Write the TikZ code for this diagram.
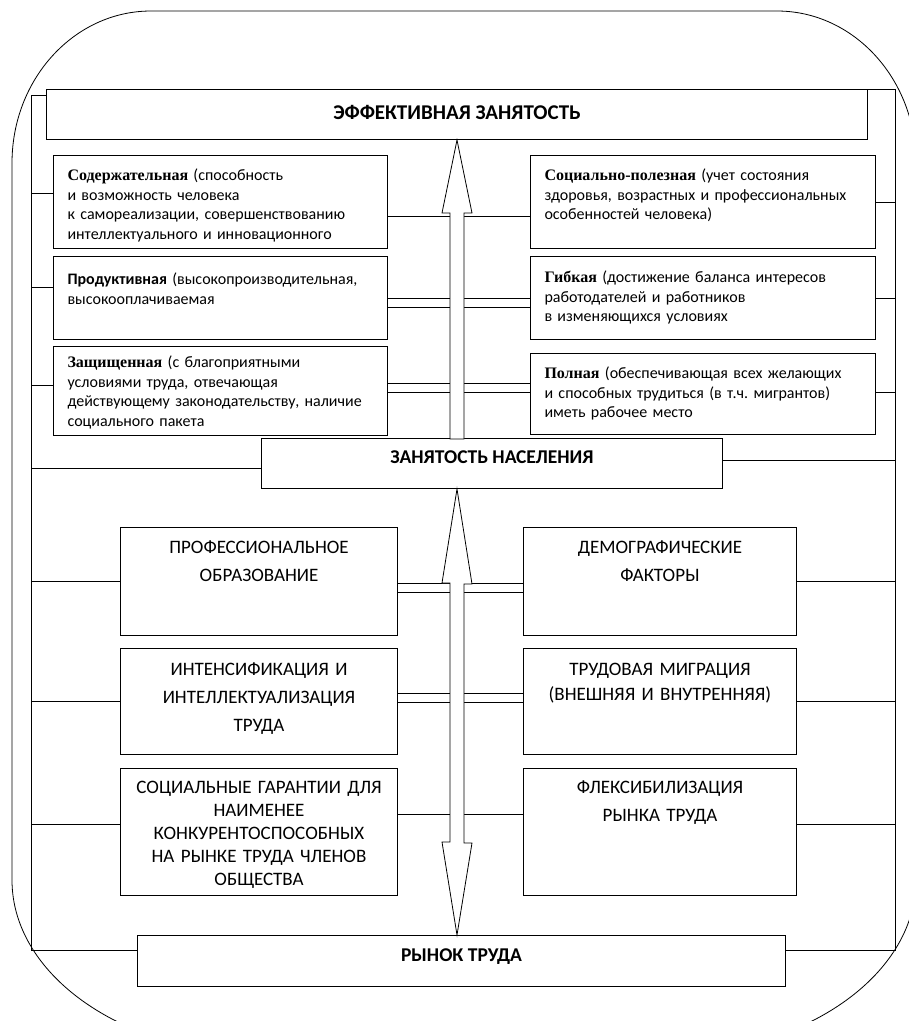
\documentclass[tikz,border=0pt]{standalone}
\usepackage{fontspec}
\setmainfont{Carlito}
\newfontfamily\serifbold{Liberation Serif}
\usetikzlibrary{positioning}

\begin{document}
\begin{tikzpicture}[
    % GLOBAL CFG
    x=1pt, y=-1pt,
    font=\fontsize{16}{19.5}\selectfont\frenchspacing,
    % Styles
    frame/.style={% For the big rounded frame and the side lines
        line width=0.8pt,
        },
    title/.style={% For the bold title boxes
        rectangle,
        draw,
        line width=1pt,
        anchor=north west,
        inner sep=0pt,
        font=\fontsize{19.5}{22}\selectfont\bfseries,
        },
    kind/.style={% For the kinds of employment (upper boxes)
        rectangle,
        draw,
        line width=1pt,
        anchor=north west,
        inner xsep=14pt,
        inner ysep=0pt,
        align=left,
        },
    factor/.style={% For the factors (lower boxes)
        rectangle,
        draw,
        line width=1pt,
        anchor=north west,
        inner xsep=4pt,
        inner ysep=0pt,
        align=center,
        font=\fontsize{19}{28}\selectfont,
        },
    link/.style={% Links to the side lines
        line width=0.8pt,
        },
    dbl/.style={% Double links across the arrows
        double,
        double distance=8pt,
        line width=0.8pt,
        },
    hollow/.style={% Hollow block arrows
        draw,
        fill=white,
        line width=0.8pt,
        line join=miter,
        }
    ]

\useasboundingbox (0,0) rectangle (909,1021);

%Start drawing the thing...
    % Draw the big rounded frame
    \begin{scope}
    \clip (0,0) rectangle (909,1021);
    \draw [frame] (12,163) arc[start angle=180, end angle=270, x radius=139, y radius=152]
        -- (777,11) arc[start angle=270, end angle=360, x radius=139, y radius=152]
        -- (916,880) arc[start angle=0, end angle=90, x radius=255, y radius=175]
        -- (267,1055) arc[start angle=90, end angle=180, x radius=255, y radius=175]
        -- cycle;
    \end{scope}

    % Draw the title boxes
    \node [title, font=\fontsize{21}{24}\selectfont\bfseries, minimum width=821pt, text height=30pt, text depth=20pt] (effect) at (46,89) {ЭФФЕКТИВНАЯ ЗАНЯТОСТЬ};
    \node [title, minimum width=461pt, text height=25pt, text depth=25pt] (zan) at (261,438) {ЗАНЯТОСТЬ НАСЕЛЕНИЯ};
    \node [title, minimum width=648pt, text height=26pt, text depth=25pt] (market) at (137,935) {РЫНОК ТРУДА};

    % Draw the kinds of employment, left column
    \node [kind, text width=306pt, text height=25pt, text depth=68pt] (soder) at (53,155)
        {{\serifbold\bfseries Содержательная} (способность\\и возможность человека\\к самореализации, совершенствованию\\интеллектуального и инновационного};
    \node [kind, text width=306pt, text height=28pt, text depth=55pt] (prod) at (53,256)
        {\textbf{Продуктивная} (высокопроизводительная,\\высокооплачиваемая};
    \node [kind, text width=306pt, text height=21pt, text depth=68pt] (zasch) at (53,346)
        {{\serifbold\bfseries Защищенная} (с благоприятными\\условиями труда, отвечающая\\действующему законодательству, наличие\\социального пакета};

    % Draw the kinds of employment, right column
    \node [kind, text width=317pt, text height=25pt, text depth=68pt] (socpol) at (530,155)
        {{\serifbold\bfseries Социально-полезная} (учет состояния\\здоровья, возрастных и профессиональных\\особенностей человека)};
    \node [kind, text width=317pt, text height=26pt, text depth=57pt] (gibk) at (530,256)
        {{\serifbold\bfseries Гибкая} (достижение баланса интересов\\работодателей и работников\\в изменяющихся условиях};
    \node [kind, text width=317pt, text height=25pt, text depth=56pt] (poln) at (530,353)
        {{\serifbold\bfseries Полная} (обеспечивающая всех желающих\\и способных трудиться (в т.ч. мигрантов)\\иметь рабочее место};

    % Draw the factors, left column
    \node [factor, text width=269pt, text height=26pt, text depth=82pt] (prof) at (120,527)
        {ПРОФЕССИОНАЛЬНОЕ\\ОБРАЗОВАНИЕ};
    \node [factor, text width=269pt, text height=27pt, text depth=79pt] (intens) at (120,648)
        {ИНТЕНСИФИКАЦИЯ И\\ИНТЕЛЛЕКТУАЛИЗАЦИЯ\\ТРУДА};
    \node [factor, font=\fontsize{19}{23}\selectfont, text width=269pt, text height=25pt, text depth=102pt] (socgar) at (120,768)
        {СОЦИАЛЬНЫЕ ГАРАНТИИ ДЛЯ\\НАИМЕНЕЕ\\КОНКУРЕНТОСПОСОБНЫХ\\НА РЫНКЕ ТРУДА ЧЛЕНОВ\\ОБЩЕСТВА};

    % Draw the factors, right column
    \node [factor, text width=265pt, text height=26pt, text depth=82pt] (demog) at (523,527)
        {ДЕМОГРАФИЧЕСКИЕ\\ФАКТОРЫ};
    \node [factor, font=\fontsize{19}{25}\selectfont, text width=265pt, text height=27pt, text depth=79pt] (migr) at (523,648)
        {ТРУДОВАЯ МИГРАЦИЯ\\(ВНЕШНЯЯ И ВНУТРЕННЯЯ)};
    \node [factor, text width=265pt, text height=25pt, text depth=102pt] (flex) at (523,768)
        {ФЛЕКСИБИЛИЗАЦИЯ\\РЫНКА ТРУДА};

    % Side lines, named ltop, lbot, rtop, rbot
    \coordinate (ltop) at (31,95);
    \coordinate (lbot) at (31,950);
    \coordinate (rtop) at (895,89);
    \coordinate (rbot) at (895,950);

% Start connecting all.
    \draw [frame] ([yshift=-6pt]effect.north west) -- (ltop) -- (lbot) -- (market.west |- lbot);
    \draw [frame] (effect.north east) -- (rtop) -- (rbot) -- (market.east |- rbot);

    % Left links
    \draw [link] ([yshift=8.5pt]soder.west) -- ([yshift=8.5pt]soder.west -| ltop);
    \draw [link] ([yshift=10.5pt]prod.west) -- ([yshift=10.5pt]prod.west -| ltop);
    \draw [link] ([yshift=5.5pt]zasch.west) -- ([yshift=5.5pt]zasch.west -| ltop);
    \draw [link] ([yshift=-5pt]zan.west) -- ([yshift=-5pt]zan.west -| ltop);
    \draw [link] (prof.west) -- (prof.west -| ltop);
    \draw [link] (intens.west) -- (intens.west -| ltop);
    \draw [link] ([yshift=7.5pt]socgar.west) -- ([yshift=7.5pt]socgar.west -| ltop);

    % Right links
    \draw [link] (socpol.east) -- (socpol.east -| rtop);
    \draw [link] (gibk.east) -- (gibk.east -| rtop);
    \draw [link] ([yshift=1.5pt]poln.east) -- ([yshift=1.5pt]poln.east -| rtop);
    \draw [link] ([yshift=3pt]zan.east) -- ([yshift=3pt]zan.east -| rtop);
    \draw [link] (demog.east) -- (demog.east -| rtop);
    \draw [link] (migr.east) -- (migr.east -| rtop);
    \draw [link] ([yshift=7.5pt]flex.east) -- ([yshift=7.5pt]flex.east -| rtop);

    % Double links across the arrows
    \draw [dbl] ([yshift=-18.5pt]soder.east) -- ([yshift=-18.5pt]soder.east -| socpol.west);
    \draw [dbl] ([yshift=-5pt]prod.east) -- ([yshift=-5pt]prod.east -| gibk.west);
    \draw [dbl] ([yshift=3pt]zasch.east) -- ([yshift=3pt]zasch.east -| poln.west);
    \draw [dbl] ([yshift=-6.5pt]prof.east) -- ([yshift=-6.5pt]prof.east -| demog.west);
    \draw [dbl] ([yshift=3.5pt]intens.east) -- ([yshift=3.5pt]intens.east -| migr.west);
    \draw [dbl] ([yshift=13.5pt]socgar.east) -- ([yshift=13.5pt]socgar.east -| flex.west);

    % Hollow arrows
    \draw [hollow] (effect.south) -- ++(15,73) -- ++(-8,0) -- ++(0,226) -- ++(-14,0)
        -- ++(0,-226) -- ++(-8,0) -- cycle;
    \draw [hollow] (effect.south |- zan.south) -- ++(15,95) -- ++(-8,0) -- ++(0,259) -- ++(8,0)
        -- (effect.south |- market.north) -- ++(-15,-93) -- ++(8,0) -- ++(0,-259) -- ++(-8,0) -- cycle;

\end{tikzpicture}
\end{document}
